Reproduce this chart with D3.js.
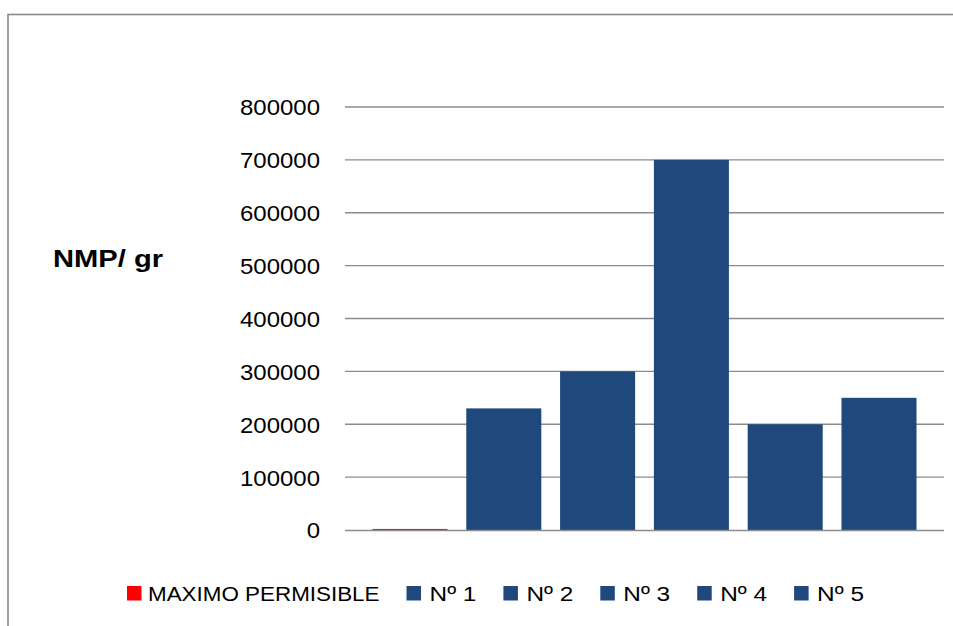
<!DOCTYPE html>
<html>
<head>
<meta charset="utf-8">
<script src="https://cdn.jsdelivr.net/npm/d3@7"></script>
<style>
  html, body { margin: 0; padding: 0; background: #fff; }
  svg { display: block; }
  text { font-family: "Liberation Sans", Arial, sans-serif; fill: #000; }
</style>
</head>
<body>
<svg id="chart" width="953" height="626"></svg>
<script>
// ---- data ----
const seriesNames = ["MAXIMO PERMISIBLE", "Nº 1", "Nº 2", "Nº 3", "Nº 4", "Nº 5"];
const seriesValues = [2000, 230000, 300000, 700000, 200000, 250000];
const seriesColors = ["#FF0000", "#1F497D", "#1F497D", "#1F497D", "#1F497D", "#1F497D"];
const yTicks = [0, 100000, 200000, 300000, 400000, 500000, 600000, 700000, 800000];
const yAxisTitle = "NMP/ gr";

// ---- layout ----
const svg = d3.select("#chart");
const plot = { left: 345, right: 944, top: 107, bottom: 530 };

// outer border
svg.append("rect")
  .attr("x", 8).attr("y", 14.5)
  .attr("width", 1000).attr("height", 700)
  .attr("fill", "none").attr("stroke", "#8a8a8a").attr("stroke-width", 1.6);

const y = d3.scaleLinear().domain([0, 800000]).range([plot.bottom, plot.top]);
const x = d3.scaleBand().domain(seriesNames)
  .range([plot.left, plot.right]).paddingInner(0.2).paddingOuter(0.293);

// gridlines
svg.append("g").selectAll("line")
  .data(yTicks.filter(t => t > 0))
  .join("line")
  .attr("x1", plot.left).attr("x2", plot.right)
  .attr("y1", d => y(d)).attr("y2", d => y(d))
  .attr("stroke", "#8c8c8c").attr("stroke-width", 1.3);

// bars
svg.append("g").selectAll("rect")
  .data(seriesNames.map((n, i) => ({ n, v: seriesValues[i], c: seriesColors[i] })))
  .join("rect")
  .attr("x", d => x(d.n))
  .attr("width", x.bandwidth())
  .attr("y", d => y(d.v))
  .attr("height", d => y(0) - y(d.v))
  .attr("fill", d => d.c);

// baseline axis
svg.append("line")
  .attr("x1", plot.left).attr("x2", plot.right)
  .attr("y1", y(0) + 0.6).attr("y2", y(0) + 0.6)
  .attr("stroke", "#8c8c8c").attr("stroke-width", 1.5);

function stretchText(sel, f) {
  sel.each(function() {
    const w = this.getComputedTextLength();
    d3.select(this).attr("textLength", w * f).attr("lengthAdjust", "spacingAndGlyphs");
  });
}

// y tick labels via d3 axis
const yAxis = d3.axisLeft(y).tickValues(yTicks).tickFormat(d3.format("d")).tickSize(0).tickPadding(0);
const ag = svg.append("g").attr("transform", `translate(320,0)`).call(yAxis);
ag.select(".domain").remove();
ag.selectAll("text")
  .attr("font-size", 22)
  .attr("font-family", "Liberation Sans, Arial, sans-serif")
  .attr("fill", "#000")
  .attr("dy", "0.36em")
  .call(stretchText, 1.09);

// y axis title
svg.append("text")
  .attr("x", 53).attr("y", 266.5)
  .attr("font-size", 23).attr("font-weight", "bold")
  .attr("textLength", 110).attr("lengthAdjust", "spacingAndGlyphs")
  .text(yAxisTitle);

// legend
const lg = svg.append("g");
let lx = 127;
seriesNames.forEach((n, i) => {
  const off = i === 0 ? 21 : 23;
  lg.append("rect").attr("x", lx).attr("y", 586).attr("width", 14.5).attr("height", 14.5)
    .attr("fill", seriesColors[i]);
  const t = lg.append("text").attr("x", lx + off).attr("y", 600.5)
    .attr("font-size", 20).text(n);
  t.call(stretchText, i === 0 ? 1.12 : 1.22);
  const w = +t.attr("textLength");
  lx = lx + off + w + 27;
});
</script>
</body>
</html>
